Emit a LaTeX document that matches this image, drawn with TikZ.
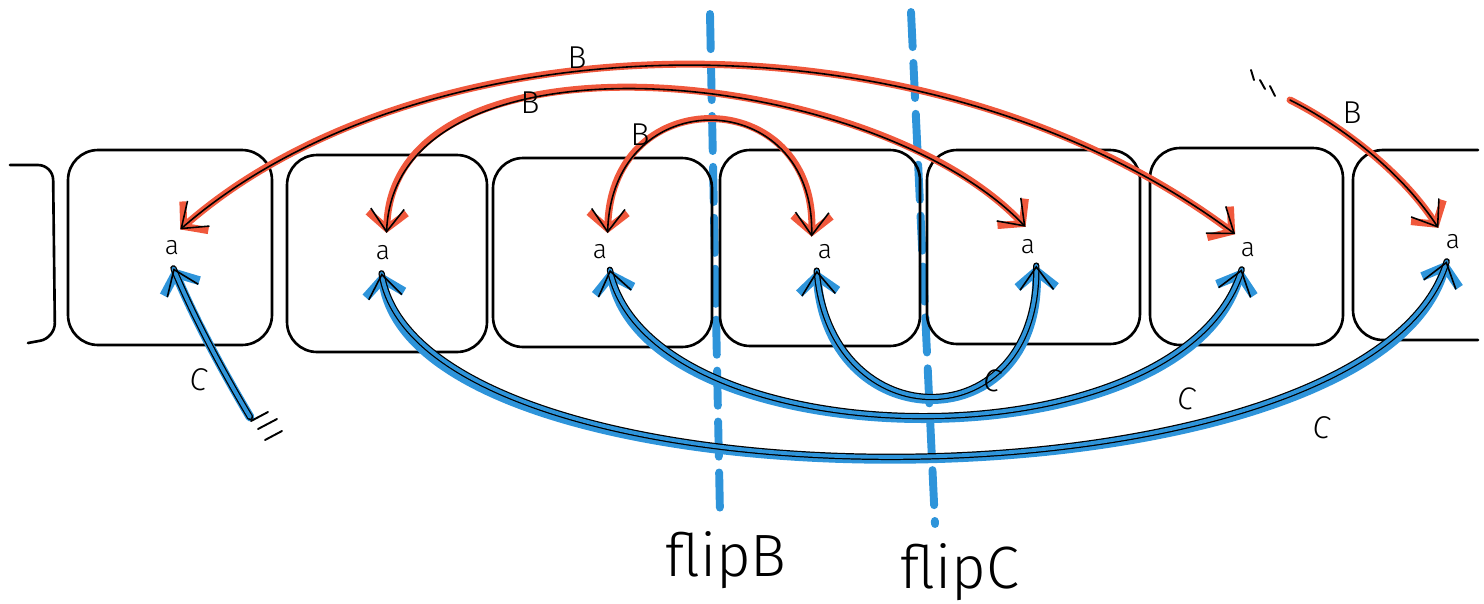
\documentclass[tikz,border=0pt]{standalone}
\usepackage{fontspec}
\newfontfamily\hand{Fira Sans Light}
\usetikzlibrary{arrows.meta}
\definecolor{penred}{HTML}{F0583C}
\definecolor{penblue}{HTML}{2E94DA}
\tikzset{
  mbarb/.tip={Straight Barb[length=9pt, width=22pt]},
  pbarb/.tip={Straight Barb[length=13pt, width=19pt]},
  pen/.style={draw=black, line width=1.5pt, line cap=round, line join=round},
  cellbox/.style={pen, rounded corners=0.6cm, inner sep=0pt},
  letter/.style={circle, minimum size=0.8cm, inner sep=0pt, font=\hand\fontsize{15}{15}\selectfont},
  tag/.style={font=\hand\fontsize{18}{18}\selectfont, inner sep=0pt},
  fliptag/.style={font=\hand\fontsize{34}{34}\selectfont},
  flipline/.style={draw=penblue, line width=4.5pt, line cap=round, dash pattern=on 20pt off 9pt},
  % red marker under a single pen stroke; #1 = marker tips, #2 = pen tips
  bbase/.style 2 args={draw=penred, line width=4pt, line cap=round, arrows={#1},
      postaction={draw=black, line width=0.9pt, arrows={#2}}},
  bconn/.style={bbase={mbarb-mbarb}{pbarb-pbarb}},
  bconnend/.style={bbase={-mbarb}{-pbarb}},
  % blue marker under a doubled pen stroke, with single pen heads only
  cbase/.style 2 args={draw=penblue, line width=5pt, line cap=round, arrows={#1},
      postaction={draw=black, line width=0.7pt, double=penblue, double distance=2.2pt, arrows=-},
      postaction={draw=black, line width=0.9pt, line cap=butt, arrows={#2},
        dash pattern=on 0pt off 1000pt}},
  cconn/.style={cbase={mbarb-mbarb}{pbarb-pbarb}},
  cconnstart/.style={cbase={mbarb-}{pbarb-}},
}
\begin{document}
\begin{tikzpicture}[x=0.02cm, y=-0.02cm]
\useasboundingbox (0,0) rectangle (1484,603);

% flip axes
\coordinate (fbTop) at (710,14);
\coordinate (fbBot) at (720,515);
\coordinate (fcTop) at (911,12);
\coordinate (fcBot) at (935,524);
\draw[flipline] (fbTop) -- (fbBot);
\draw[flipline] (fcTop) -- (fcBot);

% row of cells
\draw[pen, rounded corners=0.3cm] (10,165) -- (53,165) -- (55,338) -- (28,343);
\node[cellbox, minimum width=4.08cm, minimum height=3.9cm]  (b1) at (170,247.5) {};
\node[cellbox, minimum width=4.0cm,  minimum height=3.94cm] (b2) at (387,253.5) {};
\node[cellbox, minimum width=4.38cm, minimum height=3.78cm] (b3) at (602.5,252.5) {};
\node[cellbox, minimum width=4.0cm,  minimum height=3.92cm] (b4) at (820,248) {};
\node[cellbox, minimum width=4.26cm, minimum height=3.88cm] (b5) at (1033.5,247) {};
\node[cellbox, minimum width=3.86cm, minimum height=3.94cm] (b6) at (1246.5,246.5) {};
\draw[pen, rounded corners=0.6cm] (1478,150) -- (1353,150) -- (1353,340) -- (1478,340);

% cell contents
\node[letter] (a1) at (172,248) {a};
\node[letter] (a2) at (383,253) {a};
\node[letter] (a3) at (600,252) {a};
\node[letter] (a4) at (825,252) {a};
\node[letter] (a5) at (1028,247) {a};
\node[letter] (a6) at (1248,250) {a};
\node[letter] (a7) at (1453,242) {a};

% B links
\draw[bconn] (a1.66) .. controls (420,20) and (920,0) .. (a6.129);
\draw[bconn] (a2.80) .. controls (395,20) and (870,65) .. (a5.97);
\draw[bconn] (a3.68) .. controls (612,80) and (815,85) .. (a4.131);
\coordinate (rs) at (1290,100);
\draw[bconnend] (rs) .. controls (1340,125) and (1400,170) .. (a7.136);
\draw[pen, line width=1.1pt] (1251,70) -- (1254,80);
\draw[pen, line width=1.1pt] (1260,80) -- (1265,89);
\draw[pen, line width=1.1pt] (1270,86) -- (1275,96);

% C links
\draw[cconn] (a4.-114) .. controls (830,440) and (1040,440) .. (a5.-66);
\draw[cconn] (a3.-61) .. controls (650,460) and (1180,470) .. (a6.-108);
\draw[cconn] (a2.-94) .. controls (420,520) and (1370,520) .. (a7.-108);
\coordinate (cs) at (250,417);
\draw[cconnstart] (a1.-86) .. controls (195,320) and (225,375) .. (cs);
\draw[pen, line width=1.1pt] (251,421) -- (268,412);
\draw[pen, line width=1.1pt] (258,429) -- (277,419);
\draw[pen, line width=1.1pt] (265,440) -- (282,431);

% labels
\node[tag] (lb1) at (577,58) {B};
\node[tag] (lb2) at (530,103) {B};
\node[tag] (lb3) at (640,135) {B};
\node[tag] (lb4) at (1352,113) {B};
\node[tag, rotate=-15] (lc1) at (993,380) {C};
\node[tag, rotate=-15] (lc2) at (1187,398) {C};
\node[tag, rotate=-10] (lc3) at (1322,427) {C};
\node[tag, rotate=-10] (lc4) at (199,379) {C};
\node[fliptag] (flipB) at (726,560) {flipB};
\node[fliptag] (flipC) at (960,572) {flipC};
\end{tikzpicture}
\end{document}
